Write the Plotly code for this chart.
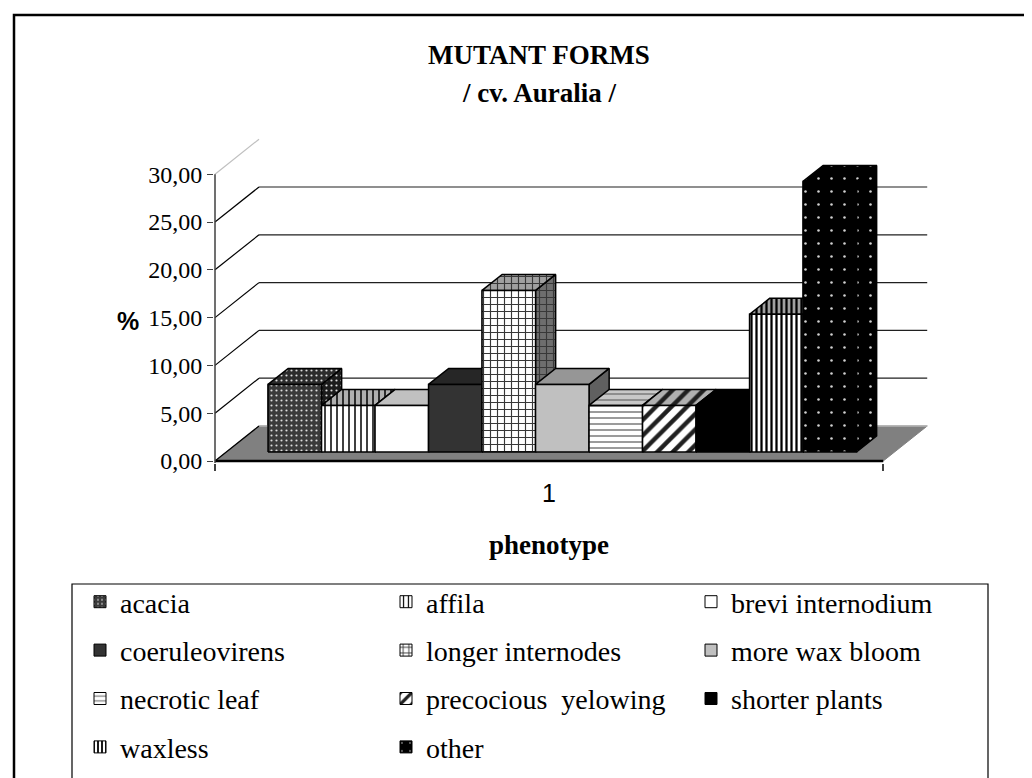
import plotly.graph_objects as go

# ---------------- data ----------------
categories = ["acacia", "affila", "brevi internodium", "coeruleovirens",
              "longer internodes", "more wax bloom", "necrotic leaf",
              "precocious\u00a0 yelowing", "shorter plants", "waxless", "other"]
values = [7.07, 4.87, 4.87, 7.07, 16.9, 7.07, 4.87, 4.87, 4.87, 14.4, 28.3]
category_label = "1"
y_ticks = [0, 5, 10, 15, 20, 25, 30]
gridline_values = [5, 10, 15, 20, 25]

# ---------------- styles ----------------
front_bg = ["#3a3a3a", "#ffffff", "#ffffff", "#333333", "#ffffff", "#c0c0c0",
            "#ffffff", "#ffffff", "#000000", "#ffffff", "#000000"]
top_bg = ["#2c2c2c", "#b0b0b0", "#c0c0c0", "#262626", "#a0a0a0", "#969696",
          "#c8c8c8", "#b0b0b0", "#000000", "#a0a0a0", "#000000"]
side_bg = ["#1c1c1c", "#808080", "#808080", "#1a1a1a", "#6e6e6e", "#606060",
           "#909090", "#808080", "#000000", "#707070", "#000000"]
pat_shape = [".", "|", "", "", "+", "", "-", "/", "", "|", "."]
pat_fg = ["#dcdcdc", "#000000", "#000000", "#000000", "#383838", "#000000",
          "#7a7a7a", "#202020", "#000000", "#000000", "#d0d0d0"]
pat_size = [5, 6, 8, 8, 7, 8, 6, 11, 8, 5, 13]
pat_solid = [0.15, 0.25, 0.3, 0.3, 0.3, 0.3, 0.25, 0.4, 0.3, 0.45, 0.03]

SERIF = "Liberation Serif"
SANS = "Liberation Sans"

W, H = 1032, 778
PL, PR, PT, PB = 206, 920, 125, 455      # plot area in pixels
X0PX, Y0PX = 207, 453                    # pixel of data origin
XU, YU = 53.5, 9.56                      # pixels per data unit
x_min = -(X0PX - PL) / XU
x_max = x_min + (PR - PL) / XU
y_min = -(PB - Y0PX) / YU
y_max = y_min + (PB - PT) / YU

DX_FULL = 44 / XU      # oblique depth offset (x units)
DY_FULL = 35 / YU      # oblique depth offset (y units)
D0, D1 = 0.257, 0.714  # depth span of the bars
X_START = 0.78
FLOOR_LEN = 12.49


def px_x(px):
    return (px - PL) / (PR - PL)


def px_y(py):
    return (PB - py) / (PB - PT)


def pattern(i, bg):
    if pat_shape[i] == "":
        return dict(shape="", bgcolor=bg, fgcolor=bg)
    return dict(shape=pat_shape[i], bgcolor=bg, fgcolor=pat_fg[i],
                size=pat_size[i], solidity=pat_solid[i], fillmode="replace")


fig = go.Figure()

# legend carriers (fully covered later by the drawn faces)
for i, (name, v) in enumerate(zip(categories, values)):
    xl = X_START + i + D0 * DX_FULL
    fig.add_trace(go.Bar(
        x=[xl + 0.5], y=[v], base=[D0 * DY_FULL], width=[1], name=name,
        marker=dict(color=front_bg[i], pattern=pattern(i, front_bg[i]),
                    line=dict(color="black", width=1)),
        legend=["legend", "legend2", "legend3"][i % 3], legendgroup=name,
        hoverinfo="skip"))

# floor
fig.add_trace(go.Scatter(
    x=[0, FLOOR_LEN, FLOOR_LEN + DX_FULL, DX_FULL, 0],
    y=[0, 0, DY_FULL, DY_FULL, 0], fill="toself", fillcolor="#808080",
    mode="lines", line=dict(color="#808080", width=1), showlegend=False,
    hoverinfo="skip"))
fig.add_trace(go.Scatter(
    x=[DX_FULL, FLOOR_LEN + DX_FULL], y=[DY_FULL, DY_FULL], mode="lines",
    line=dict(color="#b4b4b4", width=1.5), showlegend=False, hoverinfo="skip"))
fig.add_trace(go.Scatter(
    x=[0, FLOOR_LEN], y=[0, 0], mode="lines",
    line=dict(color="black", width=2.5), showlegend=False, hoverinfo="skip"))

# back-wall gridlines
for g in gridline_values:
    fig.add_trace(go.Scatter(
        x=[DX_FULL, FLOOR_LEN + DX_FULL], y=[g + DY_FULL, g + DY_FULL],
        mode="lines", line=dict(color="#202020", width=1.2),
        showlegend=False, hoverinfo="skip"))
# side-wall diagonals
for t in y_ticks:
    fig.add_trace(go.Scatter(
        x=[0, DX_FULL], y=[t, t + DY_FULL], mode="lines",
        line=dict(color="#c0c0c0" if t == y_ticks[-1] else "black", width=1.2),
        showlegend=False, hoverinfo="skip"))
# value axis line
fig.add_trace(go.Scatter(
    x=[0, 0], y=[y_min, y_ticks[-1]], mode="lines",
    line=dict(color="#404040", width=1.5), showlegend=False, hoverinfo="skip"))

# 3-D bars: side, top, front (painter's order left to right)
dep_x = (D1 - D0) * DX_FULL
dep_y = (D1 - D0) * DY_FULL
for i, v in enumerate(values):
    xl = X_START + i + D0 * DX_FULL
    xr = xl + 1
    b = D0 * DY_FULL
    t = b + v
    faces = [
        ([xr, xr + dep_x, xr + dep_x, xr, xr], [b, b + dep_y, t + dep_y, t, b], side_bg[i]),
        ([xl, xr, xr + dep_x, xl + dep_x, xl], [t, t, t + dep_y, t + dep_y, t], top_bg[i]),
        ([xl, xr, xr, xl, xl], [b, b, t, t, b], front_bg[i]),
    ]
    for fx, fy, bg in faces:
        fig.add_trace(go.Scatter(
            x=fx, y=fy, fill="toself", fillcolor=bg, fillpattern=pattern(i, bg),
            mode="lines", line=dict(color="black", width=1.5),
            showlegend=False, hoverinfo="skip"))

legend_common = dict(orientation="v", xanchor="left", yanchor="top",
                     bgcolor="rgba(0,0,0,0)", borderwidth=0,
                     font=dict(family=SERIF, size=28, color="black"),
                     traceorder="grouped", tracegroupgap=9, itemclick=False)
legend_top = 569
col_left = [72, 378, 683]

fig.update_layout(
    width=W, height=H,
    margin=dict(l=PL, r=W - PR, t=PT, b=H - PB, autoexpand=False),
    paper_bgcolor="white", plot_bgcolor="rgba(0,0,0,0)",
    barmode="overlay", separators=",.",
    showlegend=True,
    legend=dict(x=px_x(col_left[0]), y=px_y(legend_top), **legend_common),
    legend2=dict(x=px_x(col_left[1]), y=px_y(legend_top), **legend_common),
    legend3=dict(x=px_x(col_left[2]), y=px_y(legend_top), **legend_common),
    xaxis=dict(range=[x_min, x_max], showgrid=False, zeroline=False,
               showline=False, showticklabels=False, ticks="",
               minor=dict(tickvals=[0, FLOOR_LEN], ticks="outside", ticklen=7,
                          tickcolor="#404040", tickwidth=1.5, showgrid=False)),
    yaxis=dict(range=[y_min, y_max], showgrid=False, zeroline=False,
               showline=False, tickvals=y_ticks, tickformat=".2f",
               ticks="outside", ticklen=6, tickcolor="#404040", tickwidth=1.2,
               tickfont=dict(family=SERIF, size=24, color="black")),
    annotations=[
        dict(text="<b>MUTANT FORMS</b>", x=px_x(531), y=px_y(47), xref="paper",
             yref="paper", showarrow=False, xanchor="center", yanchor="middle",
             font=dict(family=SERIF, size=27, color="black")),
        dict(text="<b>/ cv. Auralia /</b>", x=px_x(531), y=px_y(85), xref="paper",
             yref="paper", showarrow=False, xanchor="center", yanchor="middle",
             font=dict(family=SERIF, size=27, color="black")),
        dict(text="<b>%</b>", x=px_x(120), y=px_y(313), xref="paper",
             yref="paper", showarrow=False, xanchor="center", yanchor="middle",
             font=dict(family=SANS, size=25, color="black")),
        dict(text=category_label, x=FLOOR_LEN / 2, y=px_y(485), xref="x",
             yref="paper", showarrow=False, xanchor="center", yanchor="middle",
             font=dict(family=SANS, size=25, color="black")),
        dict(text="<b>phenotype</b>", x=FLOOR_LEN / 2, y=px_y(537), xref="x",
             yref="paper", showarrow=False, xanchor="center", yanchor="middle",
             font=dict(family=SERIF, size=27, color="black")),
    ],
    shapes=[
        dict(type="rect", xref="paper", yref="paper", x0=px_x(6), x1=px_x(1026),
             y0=px_y(7), y1=px_y(777), line=dict(color="black", width=2.5)),
        dict(type="rect", xref="paper", yref="paper", x0=px_x(64), x1=px_x(980),
             y0=px_y(576), y1=px_y(776), line=dict(color="black", width=1.2)),
    ],
)

fig.write_html("out.html")
